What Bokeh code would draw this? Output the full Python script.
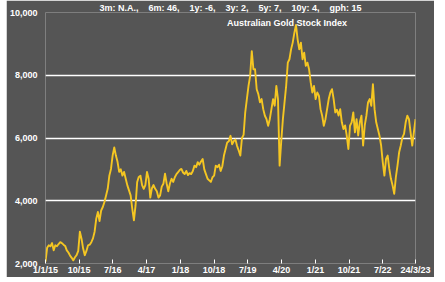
import pandas as pd
from bokeh.plotting import figure
from bokeh.models import FixedTicker, Label, Range1d
from bokeh.embed import file_html
from bokeh.resources import INLINE

start_date = "2015-01-01"
end_date = "2023-03-24"

index_values = [
    2060, 2500, 2580, 2550, 2650, 2420, 2580, 2550, 2620, 2680,
    2650, 2600, 2560, 2420, 2350, 2250, 2180, 2100, 2200, 2265,
    2400, 3015, 2790, 2475, 2265, 2400, 2580, 2600, 2680, 2800,
    3015, 3430, 3640, 3350, 3690, 3800, 3960, 4170, 4380, 4800,
    5015, 5440, 5700, 5440,
    5240, 4920, 5000, 4800, 4920, 4700, 4490, 4330, 4170, 3745,
    3375, 3850, 4600, 4760, 4800, 4500, 4380, 4500, 4920, 4700,
    4100, 4400, 4500, 4380, 4300, 4100, 4170, 4450, 4540, 4860,
    4550, 4300, 4550, 4700, 4600, 4750, 4850, 4910, 4980, 5015,
    4900, 4850, 4950, 4820, 4880, 4850, 4950, 5120, 5070, 5230,
    5150, 5250, 5330, 5000, 4850, 4700, 4650, 4600, 4750, 4800,
    5120, 5070, 5150, 4950, 5100, 5440, 5650, 5860, 5900, 6070,
    5800, 5900, 5950, 5750, 5600, 5440, 6000, 6100, 6820, 7240,
    7660, 7980, 8770, 8190, 8190, 7555, 7400, 7135, 7240, 6920,
    6710, 6600, 6390, 6600, 6920, 7240, 7030, 7660, 7240, 5120,
    5900, 6600, 7135, 7660, 8400, 8510, 8825, 9040, 9350, 9600,
    9145, 8825, 9040, 8510, 8720, 8300, 8400, 8190, 7770, 7450,
    7660, 7240, 7450, 7350, 6920, 6710, 6390, 6600, 6920, 7240,
    7450, 7555, 7240, 6815, 6900, 6715, 6920, 6500, 6285, 6400,
    6075, 5650, 6390, 6500, 6815, 6180, 6600, 6080, 6500, 6710,
    5760, 6400, 6710, 7135, 7240, 7025, 7715, 6920, 6500, 6285,
    6075, 5760, 5230, 4800, 5330, 5440, 5015, 4700, 4490, 4220,
    4750, 5120, 5545, 5760, 6020, 6130, 6500, 6710, 6600, 6180,
    5760, 6180, 6600,
]

tick_dates = ["2015-01-01", "2015-10-01", "2016-07-01", "2017-04-01",
              "2018-01-01", "2018-10-01", "2019-07-01", "2020-04-01",
              "2021-01-01", "2021-10-01", "2022-07-01", "2023-03-24"]
tick_labels = ["1/1/15", "10/15", "7/16", "4/17", "1/18", "10/18", "7/19",
               "4/20", "1/21", "10/21", "7/22", "24/3/23"]
y_ticks = [2000, 4000, 6000, 8000, 10000]
grid_levels = [4000, 6000, 8000]
title_text = "3m: N.A.,\u00a0\u00a0\u00a0 6m: 46,\u00a0\u00a0\u00a0 1y: -6,\u00a0\u00a0\u00a0 3y: 2,\u00a0\u00a0\u00a0 5y: 7,\u00a0\u00a0\u00a0 10y: 4,\u00a0\u00a0\u00a0 gph: 15"
subtitle_text = "Australian Gold Stock Index"
subtitle_date = "2020-05-14"
subtitle_level = 9680


def to_ms(d):
    return int(pd.Timestamp(d).value // 10**6)


dates = pd.date_range(start_date, end_date, periods=len(index_values))
xs = [int(t.value // 10**6) for t in dates]

BG = "#555555"
FONT = "Liberation Sans"

p = figure(width=428, height=277, output_backend="svg", toolbar_location=None,
           x_range=Range1d(to_ms(start_date), to_ms(end_date)),
           y_range=Range1d(2000, 10000),
           min_border_left=32, min_border_right=19, min_border_top=0, min_border_bottom=12,
           background_fill_color=BG, border_fill_color=BG, outline_line_color=None,
           margin=(0, 0, 0, 6))

p.title.text = title_text
p.title.align = "center"
p.title.text_color = "white"
p.title.text_font = FONT
p.title.text_font_size = "9px"
p.title.text_font_style = "bold"
p.title.standoff = 0
p.title.offset = -6

p.line(xs, index_values, line_color="#F5C622", line_width=1.9, line_join="round")

tick_ms = [to_ms(d) for d in tick_dates]
xa = p.xaxis[0]
xa.ticker = FixedTicker(ticks=tick_ms)
xa.major_label_overrides = {t: lab for t, lab in zip(tick_ms, tick_labels)}
xa.axis_line_color = None
xa.major_tick_in = 4
xa.major_tick_out = 0
xa.major_tick_line_color = "white"
xa.minor_tick_line_color = None
xa.major_label_standoff = 1
xa.major_label_text_color = "white"
xa.major_label_text_font = FONT
xa.major_label_text_font_size = "9px"
xa.major_label_text_font_style = "bold"

ya = p.yaxis[0]
ya.ticker = FixedTicker(ticks=y_ticks)
ya.major_label_overrides = {v: f"{v:,}" for v in y_ticks}
ya.axis_line_color = None
ya.major_tick_line_color = None
ya.minor_tick_line_color = None
ya.major_label_standoff = 2
ya.major_label_text_color = "white"
ya.major_label_text_font = FONT
ya.major_label_text_font_size = "9px"
ya.major_label_text_font_style = "bold"

p.xgrid.grid_line_color = None
p.ygrid.ticker = FixedTicker(ticks=grid_levels)
p.ygrid.grid_line_color = "white"
p.ygrid.grid_line_width = 1.5
p.ygrid.level = "underlay"

p.add_layout(Label(x=to_ms(subtitle_date), y=subtitle_level, text=subtitle_text,
                   text_align="center", text_baseline="middle", text_color="white",
                   text_font=FONT, text_font_size="9px", text_font_style="bold"))

open("out.html", "w").write(file_html(p, INLINE))
